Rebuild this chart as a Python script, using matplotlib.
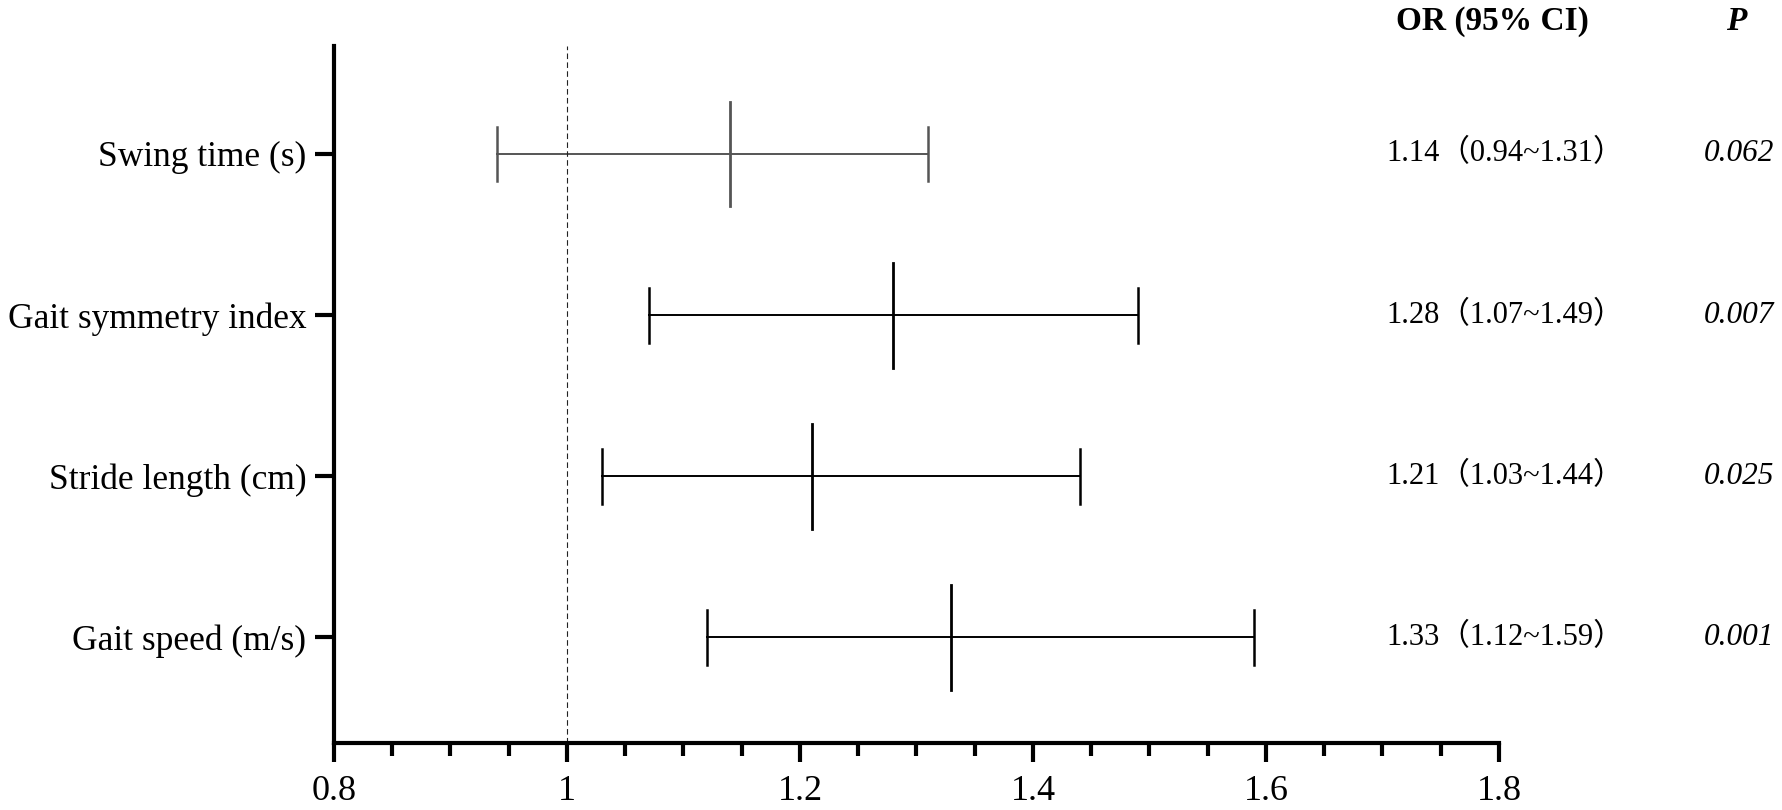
import numpy as np
import matplotlib
matplotlib.use("Agg")
import matplotlib.pyplot as plt
from matplotlib.ticker import MultipleLocator

# data
labels = ["Swing time (s)", "Gait symmetry index", "Stride length (cm)", "Gait speed (m/s)"]
odds = [1.14, 1.28, 1.21, 1.33]
lower = [0.94, 1.07, 1.03, 1.12]
upper = [1.31, 1.49, 1.44, 1.59]
pvals = ["0.062", "0.007", "0.025", "0.001"]
colors = ["#555555", "black", "black", "black"]
xticks = [0.8, 1.0, 1.2, 1.4, 1.6, 1.8]
xticklabels = ["0.8", "1", "1.2", "1.4", "1.6", "1.8"]

plt.rcParams['font.family'] = ['Liberation Serif', 'Noto Sans CJK SC']

fig = plt.figure(figsize=(17.83, 8.10), dpi=100)
ax = fig.add_axes([334/1783, 1 - 743/810, 1165/1783, 697/810])

ypos = np.arange(1, len(labels) + 1)
for y, o, lo, hi, c in zip(ypos, odds, lower, upper, colors):
    ax.plot([lo, hi], [y, y], color=c, lw=1.4)
    ax.plot([lo, lo], [y - 0.17, y + 0.17], color=c, lw=1.8)
    ax.plot([hi, hi], [y - 0.17, y + 0.17], color=c, lw=1.8)
    ax.plot([o, o], [y - 0.325, y + 0.325], color=c, lw=2.0)

ax.axvline(1.0, color="#222222", lw=0.8, ls=(0, (5, 3)))

ax.set_xlim(0.8, 1.8)
ax.set_ylim(4.655, 0.33)
ax.set_yticks(ypos)
ax.set_yticklabels(labels, fontsize=25.5)
ax.set_xticks(xticks)
ax.set_xticklabels(xticklabels, fontsize=26)
ax.xaxis.set_minor_locator(MultipleLocator(0.05))

for s in ["top", "right"]:
    ax.spines[s].set_visible(False)
for s in ["left", "bottom"]:
    ax.spines[s].set_linewidth(3)
ax.tick_params(axis="x", which="major", length=14, width=3, pad=9)
ax.tick_params(axis="x", which="minor", length=9, width=3)
ax.tick_params(axis="y", length=14, width=3, pad=6)

# right-hand table
ax.text(0.994, 1.035, "OR (95% CI)", transform=ax.transAxes, ha="center", va="center",
        fontsize=24, fontweight="bold", clip_on=False)
ax.text(1.2034, 1.035, "P", transform=ax.transAxes, ha="center", va="center",
        fontsize=24, fontweight="bold", style="italic", clip_on=False)
trans = ax.get_yaxis_transform()
for y, o, lo, hi, p in zip(ypos, odds, lower, upper, pvals):
    ax.text(0.903, y, f"{o:.2f}（{lo:.2f}~{hi:.2f}）", transform=trans, ha="left",
            va="center", fontsize=22, clip_on=False)
    ax.text(1.236, y, p, transform=trans, ha="right", va="center", fontsize=22.5,
            style="italic", clip_on=False)

fig.savefig("out.png", dpi=100)
